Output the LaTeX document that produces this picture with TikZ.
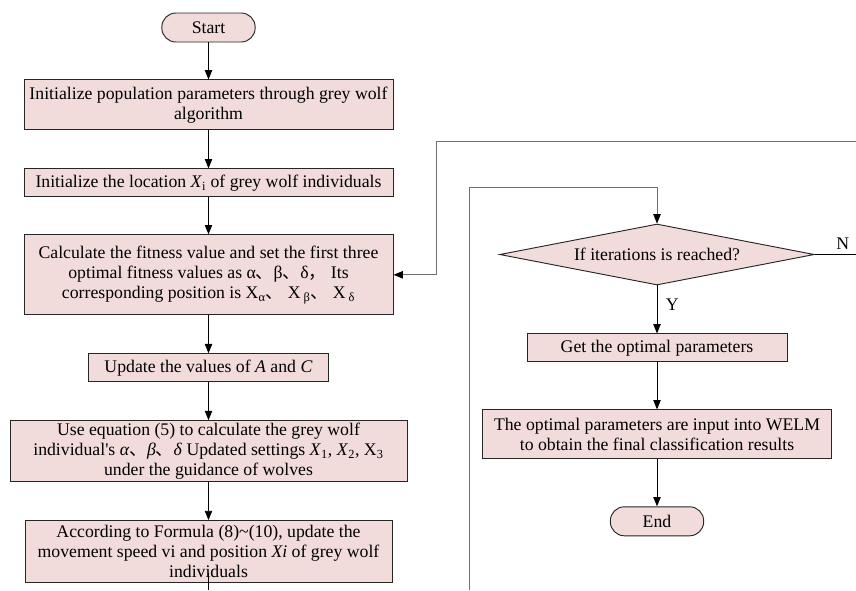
\documentclass[tikz,border=0pt]{standalone}
\usepackage{fontspec}
\setmainfont{Liberation Serif}
\newfontfamily\cjk{Noto Sans CJK SC}
\usetikzlibrary{positioning,shapes.geometric,arrows.meta}
\definecolor{boxpink}{HTML}{F2DCDB}
\definecolor{loopgrey}{HTML}{707070}
\begin{document}
\begin{tikzpicture}[x=0.75pt, y=-0.75pt, line width=0.7pt,
    font=\fontsize{13.3}{15}\selectfont,
    main/.style = {draw=black!85, fill=boxpink, rectangle, align=center, inner sep=1.5pt},
    term/.style = {main, rounded corners=10.5pt, minimum width=70pt, minimum height=21.75pt},
    dec/.style = {main, diamond, aspect=5.16, inner sep=0pt, minimum width=236pt, minimum height=45.75pt},
    arr/.style = {-{Triangle[length=7pt,width=5.5pt,color=black]}},
    loopline/.style = {draw=loopgrey}
    ]
\useasboundingbox (0,0) rectangle (856,590);

% left column
\node[term] (0) at (208.5,27.5) {Start};
\node[main, minimum width=276.75pt, minimum height=37.5pt] (1) [below=27.75pt of 0] {Initialize population parameters through grey wolf\\ algorithm};
\node[main, minimum width=276.75pt, minimum height=21pt] (2) [below=28.5pt of 1] {Initialize the location \textit{X}\textsubscript{i} of grey wolf individuals};
\node[main, minimum width=276.75pt, minimum height=60pt] (3) [below=27.75pt of 2] {Calculate the fitness value and set the first three\\ optimal fitness values as α{\cjk 、}β{\cjk 、}δ{\cjk ，} Its\\ corresponding position is X\textsubscript{α}{\cjk 、} X\,\textsubscript{β}{\cjk 、} X\,\textsubscript{δ}};
\node[main, minimum width=180pt, minimum height=21pt] (4) [below=28.5pt of 3] {Update the values of \textit{A} and \textit{C}};
\node[main, minimum width=297.75pt, minimum height=45.75pt] (5) [below=28.5pt of 4] {Use equation (5) to calculate the grey wolf\\ individual\textquotesingle s \textit{α}{\cjk 、}\textit{β}{\cjk 、}\textit{δ} Updated settings \textit{X}\textsubscript{1}, \textit{X}\textsubscript{2}, X\textsubscript{3}\\ under the guidance of wolves};
\node[main, minimum width=275.25pt, minimum height=46.5pt] (6) [below=28.5pt of 5] {According to Formula (8)\textasciitilde(10), update the\\ movement speed vi and position \textit{Xi} of grey wolf\\ individuals};

% right column
\node[dec] (7) at (657,254.5) {If iterations is reached?};
\node[main, minimum width=195pt, minimum height=21pt] (8) [below=36pt of 7] {Get the optimal parameters};
\node[main, minimum width=261.75pt, minimum height=36.75pt] (9) [below=35.25pt of 8] {The optimal parameters are input into WELM\\ to obtain the final classification results};
\node[term] (10) [below=35.25pt of 9] {End};

% loose ends at the edges
\coordinate (r1) at (856,141);
\coordinate (r2) at (436,141);
\coordinate (r3) at (856,254.5);
\coordinate (l1) at (469,590);
\coordinate (l2) at (469,187);
\coordinate (b1) at (208.5,590);

\draw[arr] (0) -- (1);
\draw[arr] (1) -- (2);
\draw[arr] (2) -- (3);
\draw[arr] (3) -- (4);
\draw[arr] (4) -- (5);
\draw[arr] (5) -- (6);
\draw ([yshift=7.5pt]6.south) -- (b1);
\draw[arr, loopline] (r1) -- (r2) |- (3);
\draw[arr, loopline] (l1) -- (l2) -| (7);
\draw (7) -- node[pos=0.68, above] {N} (r3);
\draw[arr] (7) -- node[pos=0.4, right=3pt] {Y} (8);
\draw[arr] (8) -- (9);
\draw[arr] (9) -- (10);

\end{tikzpicture}
\end{document}
